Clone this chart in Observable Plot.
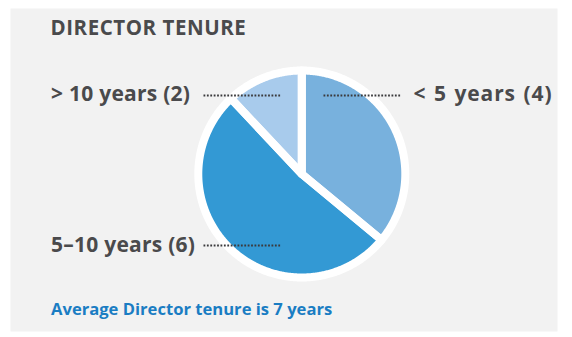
<!DOCTYPE html>
<html>
<head>
<meta charset="utf-8">
<script src="https://cdn.jsdelivr.net/npm/d3@7"></script>
<script src="https://cdn.jsdelivr.net/npm/@observablehq/plot@0.6"></script>
<style>
  html, body { margin: 0; padding: 0; background: #ffffff; }
  #chart svg { display: block; }
</style>
</head>
<body>
<div id="chart"></div>
<script>
// ---- data ----
const categories = ["< 5 years", "5–10 years", "> 10 years"];
const counts = [4, 6, 2];
const shares = [36, 52, 12];
const colors = ["#78b1dd", "#3399d4", "#a8cbec"];
const title = "DIRECTOR TENURE";
const note = "Average Director tenure is 7 years";

// ---- layout ----
const W = 572, H = 337;
const M = {left: 10, right: 15, top: 8, bottom: 6};
const CX = 301.3, CY = 173.5, K = 103.5;   // pie centre (px) and radius unit (px)
const px2x = p => (p - CX) / K;
const py2y = p => (CY - p) / K;
const textColor = "#4a4a4c";

const rows = categories.map((c, i) => ({cat: c, count: counts[i], share: shares[i]}));
const arcs = d3.pie().sort(null).value(d => d.share)(rows);

// polygon vertices of each slice (centre + arc), unit radius
const pts = [];
arcs.forEach(a => {
  pts.push({cat: a.data.cat, x: 0, y: 0});
  const n = Math.max(2, Math.ceil((a.endAngle - a.startAngle) / (Math.PI / 360)));
  for (let k = 0; k <= n; k++) {
    const t = a.startAngle + (a.endAngle - a.startAngle) * k / n;
    pts.push({cat: a.data.cat, x: Math.sin(t), y: Math.cos(t)});
  }
});

// label placement (layout only)
const labelLayout = {
  "< 5 years":  {tx: 413, ty: 94,  ly: 95,  l1: 323, l2: 400, ls: 0.9, ws: 1.2},
  "5–10 years": {tx: 50.5, ty: 244.3, ly: 245, l1: 203, l2: 280, ls: 0.25, ws: 0},
  "> 10 years": {tx: 50.5, ty: 94,  ly: 95,  l1: 203, l2: 280, ls: 0.25, ws: 0}
};
const labels = rows.map(r => ({...r, ...labelLayout[r.cat], text: `${r.cat} (${r.count})`}));
const spacing = new Map(labels.map(d => [d.text, [d.ls, d.ws]]));
spacing.set(title, [0.55, 0]);

const plot = Plot.plot({
  width: W, height: H,
  marginLeft: M.left, marginRight: M.right, marginTop: M.top, marginBottom: M.bottom,
  style: {background: "transparent", overflow: "visible"},
  x: {domain: [px2x(M.left), px2x(W - M.right)], axis: null},
  y: {domain: [py2y(H - M.bottom), py2y(M.top)], axis: null},
  color: {domain: categories, range: colors},
  marks: [
    Plot.frame({fill: "#f2f2f2", stroke: "none"}),
    Plot.line(pts, {x: "x", y: "y", z: "cat", fill: "cat", stroke: "none", curve: "linear-closed"}),
    Plot.line(pts, {x: "x", y: "y", z: "cat", stroke: "#ffffff", strokeWidth: 8, strokeLinejoin: "round", curve: "linear-closed"}),
    Plot.link(labels, {
      x1: d => px2x(d.l1), x2: d => px2x(d.l2),
      y1: d => py2y(d.ly), y2: d => py2y(d.ly),
      stroke: "#3a3a3c", strokeWidth: 2, strokeDasharray: "1.8 1.6"
    }),
    Plot.text(labels, {
      x: d => px2x(d.tx), y: d => py2y(d.ty), text: "text",
      textAnchor: "start", fill: textColor, fontSize: 21, fontWeight: 700,
      fontFamily: "Open Sans"
    }),
    Plot.text([title], {
      x: px2x(50), y: py2y(28.4), text: d => d,
      textAnchor: "start", fill: textColor, fontSize: 20.5, fontWeight: 700,
      fontFamily: "Open Sans"
    }),
    Plot.text([note], {
      x: px2x(50.5), y: py2y(309.6), text: d => d,
      textAnchor: "start", fill: "#1a7dc3", fontSize: 16.6, fontWeight: 700,
      fontFamily: "Open Sans"
    })
  ]
});
d3.select(plot).selectAll("text").each(function() {
  const s = spacing.get(this.textContent);
  if (s) {
    this.style.letterSpacing = s[0] + "px";
    this.style.wordSpacing = s[1] + "px";
  }
});
document.getElementById("chart").appendChild(plot);
</script>
</body>
</html>
